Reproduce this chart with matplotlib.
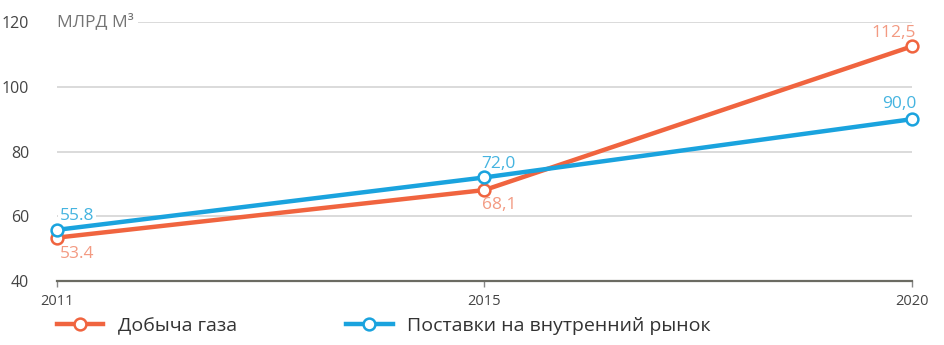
import matplotlib.pyplot as plt

plt.rcParams['font.family'] = ['Open Sans', 'DejaVu Sans']

years = ["2011", "2015", "2020"]
production = [53.4, 68.1, 112.5]
supply = [55.8, 72.0, 90.0]
production_labels = ["53.4", "68,1", "112,5"]
supply_labels = ["55.8", "72,0", "90,0"]

orange = "#f0643f"
blue = "#1aa3de"
orange_txt = "#f39a82"
blue_txt = "#45b4e0"

fig = plt.figure(figsize=(9.45, 3.45), dpi=100)
ax = fig.add_axes([0.0603, 0.1855, 0.9047, 0.7505])

x = list(range(len(years)))
ax.plot(x, production, color=orange, lw=3.2, marker='o', ms=8.5, mfc='white',
        mec=orange, mew=1.8, zorder=4, clip_on=False, label="Добыча газа")
ax.plot(x, supply, color=blue, lw=3.2, marker='o', ms=8.5, mfc='white',
        mec=blue, mew=1.8, zorder=4, clip_on=False, label="Поставки на внутренний рынок")

ax.set_xlim(0, 2)
ax.set_ylim(40, 120)
ax.set_yticks([40, 60, 80, 100, 120])
ax.set_xticks(x)
ax.set_xticklabels(years)
ax.grid(axis='y', color='#d4d4d4', lw=1.2)
ax.set_axisbelow(True)
for s in ['top', 'right', 'left']:
    ax.spines[s].set_visible(False)
ax.spines['bottom'].set_color('#6b6b62')
ax.spines['bottom'].set_linewidth(1.6)
ax.tick_params(axis='y', length=0, pad=20, labelsize=11.5, labelcolor='#444444')
ax.tick_params(axis='x', length=4, width=1, color='#888888', pad=5,
               labelsize=10.5, labelcolor='#444444')

bb = dict(facecolor='white', edgecolor='none', pad=1)
kw = dict(fontsize=12.5, zorder=3, bbox=bb)
ax.annotate(supply_labels[0], (0, supply[0]), xytext=(2, 4), textcoords='offset points',
            ha='left', va='bottom', color=blue_txt, **kw)
ax.annotate(production_labels[0], (0, production[0]), xytext=(2, -6), textcoords='offset points',
            ha='left', va='top', color=orange_txt, **kw)
ax.annotate(supply_labels[1], (1, supply[1]), xytext=(-2, 4), textcoords='offset points',
            ha='left', va='bottom', color=blue_txt, **kw)
ax.annotate(production_labels[1], (1, production[1]), xytext=(-2, -5), textcoords='offset points',
            ha='left', va='top', color=orange_txt, **kw)
ax.annotate(production_labels[2], (2, production[2]), xytext=(3, 4), textcoords='offset points',
            ha='right', va='bottom', color=orange_txt, **kw)
ax.annotate(supply_labels[2], (2, supply[2]), xytext=(3, 5), textcoords='offset points',
            ha='right', va='bottom', color=blue_txt, **kw)

ax.text(0.0, 120, "МЛРД М³", fontsize=12.5, color='#747474', ha='left', va='center',
        zorder=3, bbox=dict(facecolor='white', edgecolor='none', pad=3))

fig.legend(loc='lower left', bbox_to_anchor=(0.0415, -0.022), ncol=2, frameon=False,
           fontsize=14, handlelength=2.4, columnspacing=5.6, handletextpad=0.75,
           labelcolor='#333333')

fig.savefig("out.png", dpi=100)
